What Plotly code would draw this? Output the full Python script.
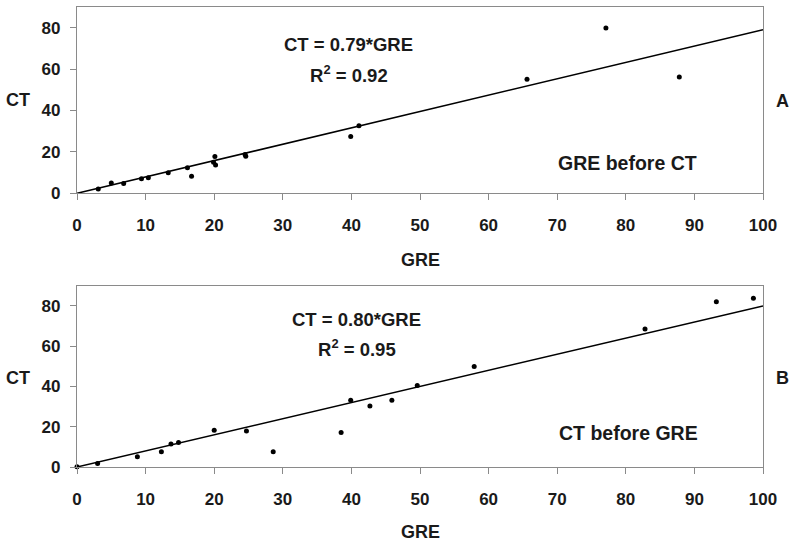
import plotly.graph_objects as go
from plotly.subplots import make_subplots

# Panel A: GRE before CT
gre_a = [3.1, 5.0, 6.8, 9.4, 10.4, 13.3, 16.1, 16.7, 19.9, 20.1, 20.2, 24.5, 24.6, 39.9, 41.1, 65.6, 77.1, 87.8]
ct_a = [2.1, 5.0, 4.7, 7.0, 7.5, 9.9, 12.3, 8.2, 15.0, 17.8, 13.7, 18.7, 17.9, 27.5, 32.6, 55.1, 79.9, 56.2]
slope_a = 0.79
r2_a = 0.92

# Panel B: CT before GRE
gre_b = [0.0, 3.0, 8.8, 12.3, 13.7, 14.8, 20.0, 24.7, 28.6, 38.5, 39.9, 42.7, 45.9, 49.6, 57.9, 82.8, 93.2, 98.6]
ct_b = [0.1, 1.8, 5.1, 7.6, 11.4, 12.2, 18.3, 17.9, 7.6, 17.1, 33.1, 30.3, 33.2, 40.5, 49.9, 68.5, 82.1, 83.8]
slope_b = 0.80
r2_b = 0.95

x_ticks = [0, 10, 20, 30, 40, 50, 60, 70, 80, 90, 100]
y_ticks = [0, 20, 40, 60, 80]
fit_x = [0, 100]

FONT = "Liberation Sans, Arial, sans-serif"
TXT = "#1a1a1a"
AX = "#8a8a8a"

fig = make_subplots(rows=2, cols=1)

for row, gx, cy, s in [(1, gre_a, ct_a, slope_a), (2, gre_b, ct_b, slope_b)]:
    fig.add_trace(go.Scatter(x=fit_x, y=[s * v for v in fit_x], mode="lines",
                             line=dict(color="black", width=1.5), showlegend=False,
                             hoverinfo="skip"), row=row, col=1)
    fig.add_trace(go.Scatter(x=gx, y=cy, mode="markers",
                             marker=dict(color="black", size=5), showlegend=False,
                             cliponaxis=False), row=row, col=1)

axis_common = dict(showgrid=False, zeroline=False, showline=True, linecolor=AX,
                   linewidth=1.2, mirror=True, ticks="outside", ticklen=6,
                   tickcolor=AX, tickwidth=1.2,
                   tickfont=dict(family=FONT, size=17, color=TXT, weight="bold"))

fig.update_layout(
    width=800, height=546,
    margin=dict(l=77, r=37, t=7, b=79),
    paper_bgcolor="white", plot_bgcolor="white",
    font=dict(family=FONT, color=TXT),
    xaxis=dict(range=[0, 100], tickvals=x_ticks, ticklabelstandoff=10, anchor="y", **axis_common),
    yaxis=dict(range=[0, 90], tickvals=y_ticks, domain=[0.595, 1.0], anchor="x", ticklabelstandoff=6, **axis_common),
    xaxis2=dict(range=[0, 100], tickvals=x_ticks, ticklabelstandoff=10, anchor="y2", **axis_common),
    yaxis2=dict(range=[0, 90], tickvals=y_ticks, domain=[0.0, 0.394], anchor="x2", ticklabelstandoff=6, **axis_common),
)

ann = [
    dict(x=39.6, y=71.8, xref="x", yref="y", text=f"CT = {slope_a:.2f}*GRE", size=18.5),
    dict(x=39.7, y=57.4, xref="x", yref="y", text=f"R<sup>2</sup> = {r2_a:.2f}", size=18.5),
    dict(x=80.3, y=14.6, xref="x", yref="y", text="GRE before CT", size=19.5),
    dict(x=40.7, y=73.4, xref="x2", yref="y2", text=f"CT = {slope_b:.2f}*GRE", size=18.5),
    dict(x=40.8, y=59.3, xref="x2", yref="y2", text=f"R<sup>2</sup> = {r2_b:.2f}", size=18.5),
    dict(x=80.4, y=16.7, xref="x2", yref="y2", text="CT before GRE", size=19.5),
    dict(x=-0.086, y=0.798, xref="paper", yref="paper", text="CT", size=18),
    dict(x=-0.086, y=0.193, xref="paper", yref="paper", text="CT", size=18),
    dict(x=0.5, y=0.45, xref="paper", yref="paper", text="GRE", size=18),
    dict(x=0.5, y=-0.141, xref="paper", yref="paper", text="GRE", size=18),
    dict(x=1.029, y=0.796, xref="paper", yref="paper", text="A", size=18),
    dict(x=1.029, y=0.193, xref="paper", yref="paper", text="B", size=18),
]
annotations = []
for a in ann:
    size = a.pop("size")
    a.update(showarrow=False, xanchor="center", yanchor="middle",
             font=dict(family=FONT, color=TXT, size=size, weight="bold"))
    annotations.append(a)
fig.update_layout(annotations=annotations)

fig.write_html("out.html", config={"displayModeBar": False},
               post_script="document.body.style.margin='0';document.body.style.padding='0';document.body.style.overflow='hidden';")
